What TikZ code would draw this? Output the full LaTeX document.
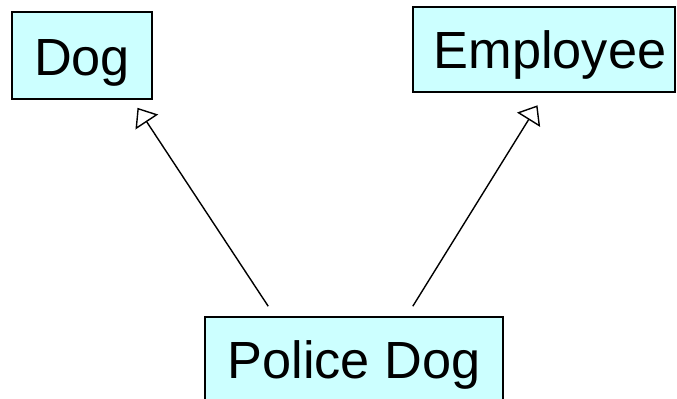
\documentclass[tikz,border=0pt]{standalone}
\usepackage{fontspec}
\setmainfont{Liberation Sans}
\usetikzlibrary{arrows.meta}
\definecolor{boxfill}{RGB}{204,255,255}
\tikzset{
  classbox/.style={draw, line width=1.6bp, fill=boxfill, inner sep=0pt,
    text depth=0pt, font=\fontsize{52.3bp}{60bp}\selectfont},
  inherit/.style={line width=1.4bp, -{Triangle[open, length=17bp, width=27bp, line width=1.4bp]}}
}
\begin{document}
\begin{tikzpicture}[x=1bp,y=-1bp]
  \useasboundingbox (0,0) rectangle (677,398);
  \clip (0,0) rectangle (677,398);
  % class boxes
  \node[classbox, minimum width=140bp, minimum height=87bp, text height=39bp] (dog) at (82,55.5) {Dog};
  \node[classbox, minimum width=262bp, minimum height=85bp, text height=37.6bp] (emp) at (544,49.5) {\hspace*{12bp}Employee};
  \node[classbox, minimum width=298bp, minimum height=84bp, text height=38bp] (pd) at (354,359) {Police Dog};
  % generalization arrows
  \draw[inherit] ([xshift=64bp, yshift=10bp]pd.north west) -- ([xshift=-15.3bp, yshift=-8bp]dog.south east);
  \draw[inherit] ([xshift=-91bp, yshift=10bp]pd.north east) -- ([xshift=125.3bp, yshift=-12.5bp]emp.south west);
\end{tikzpicture}
\end{document}
